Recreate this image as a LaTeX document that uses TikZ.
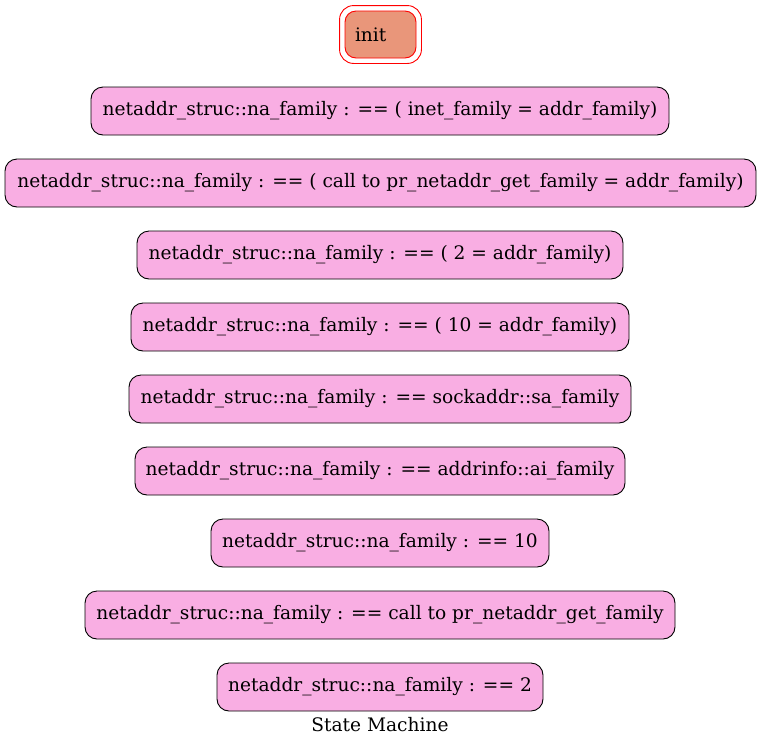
\documentclass[tikz,border=0pt]{standalone}
\usepackage{fontspec}
\setmainfont{DejaVu Serif}
\usetikzlibrary{fit}
\definecolor{boxpink}{HTML}{F9AEE3}
\definecolor{salmon}{HTML}{E9967A}
\tikzset{
  state/.style={draw=black, fill=boxpink, rounded corners=12pt, line width=0.9pt,
    minimum height=48pt, inner xsep=10pt, font=\fontsize{18.6}{22}\selectfont},
  initstate/.style={draw=red, fill=salmon, rounded corners=11pt, line width=0.9pt,
    minimum height=47pt, inner xsep=10pt, text width=51pt, align=left, font=\fontsize{18.6}{22}\selectfont},
  outerring/.style={draw=red, rounded corners=14pt, line width=0.9pt, inner sep=5pt},
  caption/.style={font=\fontsize{18.6}{22}\selectfont}
}
\begin{document}
\begin{tikzpicture}[x=1pt,y=-1pt]
\useasboundingbox (0,0) rectangle (761,748);
\node[initstate] (init) at (380.5,34.5) {init};
\node[outerring, fit=(init)] (initouter) {};
\node[state, minimum width=578pt] (s1) at (380,111) {netaddr\_struc::na\_family : == ( inet\_family = addr\_family)};
\node[state, minimum width=751pt] (s2) at (380.5,183) {netaddr\_struc::na\_family : == ( call to pr\_netaddr\_get\_family = addr\_family)};
\node[state, minimum width=486pt] (s3) at (380,255) {netaddr\_struc::na\_family : == ( 2 = addr\_family)};
\node[state, minimum width=498pt] (s4) at (380,327) {netaddr\_struc::na\_family : == ( 10 = addr\_family)};
\node[state, minimum width=502pt] (s5) at (380,399) {netaddr\_struc::na\_family : == sockaddr::sa\_family};
\node[state, minimum width=490pt] (s6) at (380,471) {netaddr\_struc::na\_family : == addrinfo::ai\_family};
\node[state, minimum width=338pt] (s7) at (380,543) {netaddr\_struc::na\_family : == 10};
\node[state, minimum width=590pt] (s8) at (380,615) {netaddr\_struc::na\_family : == call to pr\_netaddr\_get\_family};
\node[state, minimum width=326pt] (s9) at (380,687) {netaddr\_struc::na\_family : == 2};
\node[caption] (title) at (380,725) {State Machine};
\end{tikzpicture}
\end{document}
